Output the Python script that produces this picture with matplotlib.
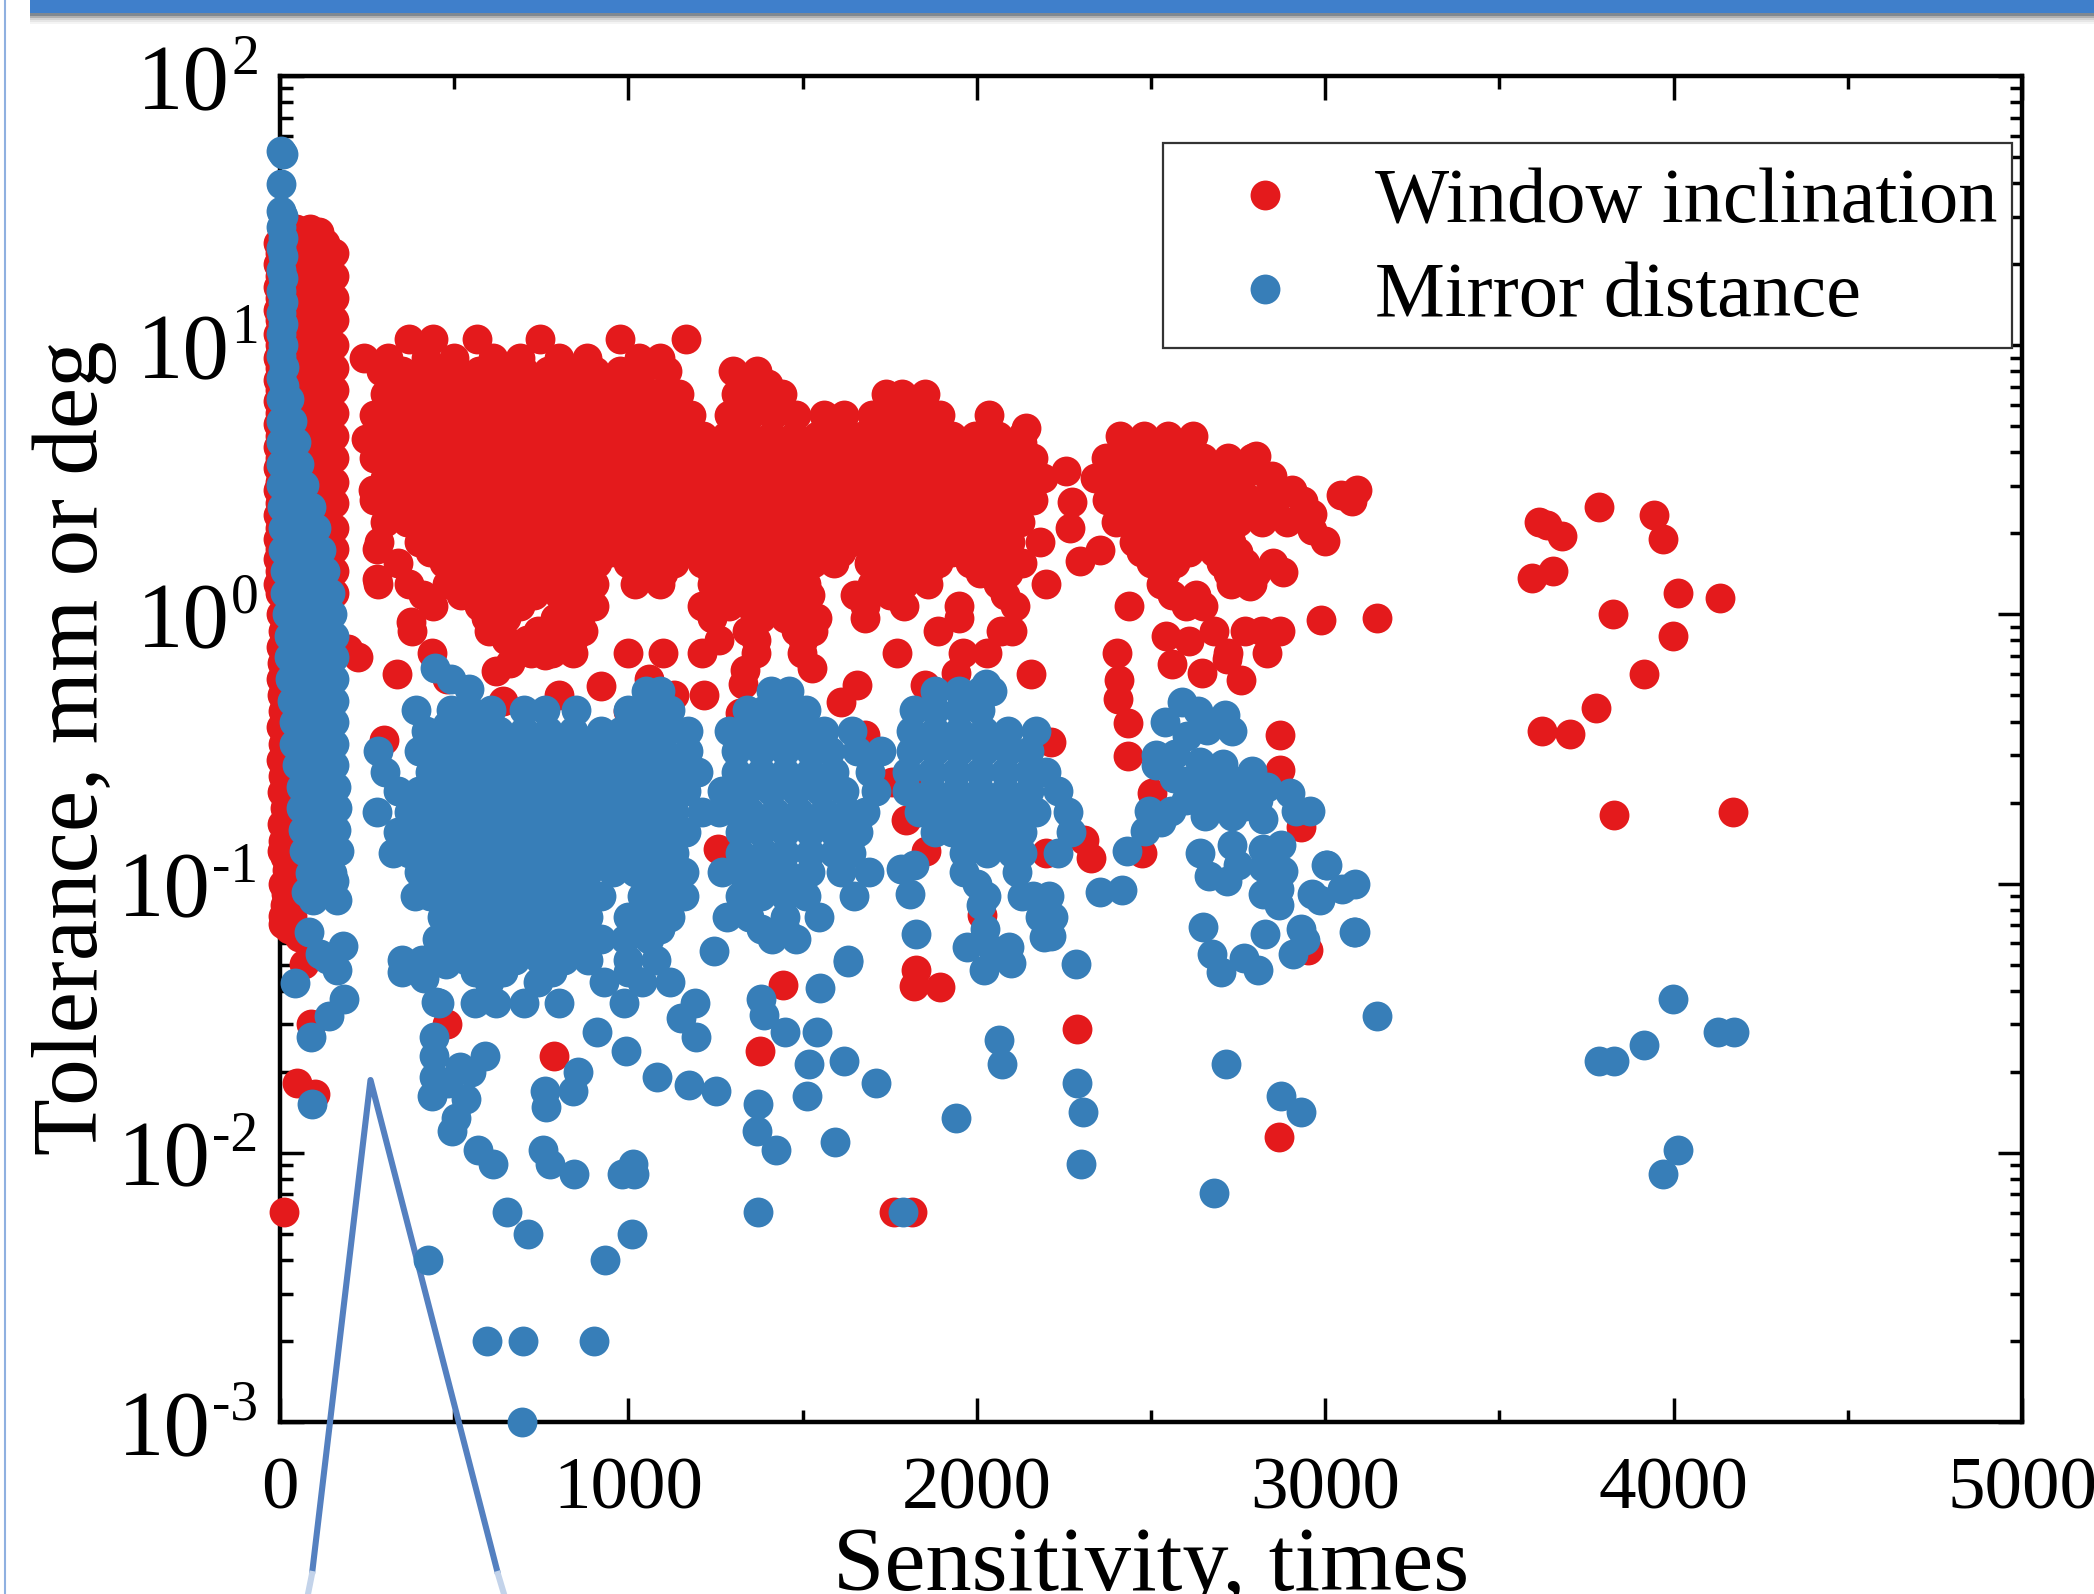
import numpy as np
from matplotlib import pyplot as plt
from matplotlib.lines import Line2D
from matplotlib.patches import Rectangle

plt.rcParams['font.family'] = ['Liberation Serif', 'DejaVu Serif']

W = 2094
H = 1594

# (tolerance, sensitivities) read row by row off the dense red cloud
red_rows = [
    (10.5, [370, 440, 565, 745, 975, 1165]),
    (9.0, [240, 310, 420, 500, 610, 690, 800, 880, 1030, 1090]),
    (8.0, [290, 350, 440, 510, 570, 640, 700, 770, 840, 905, 975, 1040, 1110, 1300, 1370]),
    (7.2, [330, 400, 470, 540, 610, 680, 750, 820, 890, 960, 1020, 1330, 1400]),
    (6.6, [300, 365, 430, 495, 560, 625, 690, 755, 820, 885, 950, 1015, 1080, 1145, 1310, 1375, 1440, 1740, 1785, 1850]),
    (5.5, [270, 335, 400, 465, 530, 595, 660, 725, 790, 855, 920, 985, 1050, 1115, 1180, 1290, 1350, 1415, 1480, 1560, 1620, 1700, 1765, 1830, 1895, 2035]),
    (4.6, [300, 365, 430, 495, 560, 625, 690, 755, 820, 885, 950, 1015, 1080, 1145, 1215, 1280, 1345, 1410, 1475, 1540, 1605, 1670, 1735, 1800, 1865, 1930, 1995, 2060, 2130, 2410, 2480, 2550, 2620]),
    (3.8, [270, 335, 400, 465, 530, 595, 660, 725, 790, 855, 920, 985, 1050, 1115, 1180, 1250, 1315, 1380, 1445, 1510, 1575, 1640, 1705, 1770, 1835, 1900, 1965, 2030, 2095, 2160, 2370, 2440, 2510, 2580, 2650, 2720, 2790]),
    (3.2, [300, 365, 430, 495, 560, 625, 690, 755, 820, 885, 950, 1015, 1080, 1145, 1215, 1280, 1345, 1410, 1475, 1540, 1605, 1670, 1735, 1800, 1865, 1930, 1995, 2060, 2125, 2190, 2340, 2410, 2480, 2550, 2620, 2690, 2760, 2840]),
    (2.65, [270, 335, 400, 465, 530, 595, 660, 725, 790, 855, 920, 985, 1050, 1115, 1180, 1250, 1315, 1380, 1445, 1510, 1575, 1640, 1705, 1770, 1835, 1900, 1965, 2030, 2095, 2160, 2375, 2440, 2510, 2580, 2650, 2720, 2790, 2860]),
    (2.2, [300, 365, 430, 495, 560, 625, 690, 755, 820, 885, 950, 1015, 1080, 1145, 1215, 1280, 1345, 1410, 1475, 1540, 1605, 1670, 1735, 1800, 1865, 1930, 1995, 2060, 2125, 2400, 2470, 2540, 2610, 2680, 2750, 2820, 2890]),
    (1.85, [285, 400, 465, 530, 595, 660, 725, 790, 855, 920, 985, 1050, 1115, 1180, 1250, 1315, 1380, 1445, 1510, 1575, 1640, 1700, 1770, 1835, 1900, 1965, 2030, 2095, 2180, 2450, 2520, 2590, 2660, 2730]),
    (1.7, [430, 500, 560, 630, 690, 760, 820, 880, 950, 1020, 1090, 1150, 1215, 1280, 1350, 1420, 1480, 1550, 1610, 1730, 1800, 1870, 1930, 2000, 2060, 2470, 2540, 2610, 2680, 2750]),
    (1.55, [340, 470, 530, 600, 660, 720, 790, 850, 910, 1000, 1060, 1130, 1210, 1270, 1330, 1400, 1460, 1530, 1590, 1690, 1750, 1830, 1890, 1980, 2040, 2130, 2500, 2570, 2700, 2770, 2850]),
    (1.42, [500, 570, 630, 690, 750, 820, 880, 1030, 1100, 1240, 1300, 1370, 1430, 1500, 1720, 1790, 1860, 2010, 2090, 2540, 2720, 2800]),
    (1.3, [280, 370, 480, 550, 620, 690, 760, 830, 900, 1020, 1090, 1240, 1300, 1370, 1440, 1510, 1700, 1790, 1860, 2060, 2200, 2530, 2730, 2790]),
    (1.18, [410, 520, 590, 660, 730, 800, 870, 1250, 1320, 1390, 1460, 1520, 1650, 1750, 2080, 2560, 2630]),
    (1.07, [440, 570, 630, 690, 830, 900, 1210, 1290, 1350, 1420, 1490, 1680, 1790, 1950, 2110, 2437, 2600, 2650]),
    (0.97, [590, 650, 790, 860, 1240, 1380, 1450, 1540, 1680, 1950]),
    (0.87, [380, 600, 740, 810, 870, 1340, 1480, 1530, 1890, 2070, 2100, 2680, 2770, 2820, 2870]),
    (0.8, [650, 710, 840, 1260, 1366, 1500]),
    (0.72, [435, 720, 780, 840, 1000, 1100, 1210, 1366, 1498, 1770, 1960, 2030, 2401, 2720, 2834]),
]

# (sensitivity, log10 tolerance) for the spike and the loose red points
red_px = [0, 55, 105, 155]
red_px2 = [-5, 30, 80, 130]
red_spike_t = [22, 18, 15, 12.4, 10, 8.2, 6.8, 5.6, 4.6, 3.8, 3.1, 2.6, 2.1, 1.75, 1.45, 1.2]
red_spike_t2 = [24, 20, 16.5, 13.5, 11, 9, 7.4, 6.2, 5.1, 4.2, 3.5, 2.9, 2.35, 1.9, 1.6, 1.3]
red_top = [(5, 1.43), (45, 1.43), (85, 1.43), (112, 1.42), (130, 1.36)]
red_left = [(3, 0.0), (8, -0.06), (4, -0.12), (6, -0.18), (2, -0.24), (6, -0.3), (9, -0.36), (3, -0.42), (8, -0.48), (2, -0.54),
            (8, -0.6), (5, -0.66), (15, -0.72), (6, -0.78), (10, -0.84), (6, -0.88), (14, -0.9), (20, -0.95), (10, -1.0), (18, -1.04),
            (14, -1.08), (10, -1.12), (25, -1.17), (55, -1.2), (70, -1.3), (10, -1.15), (35, -1.12)]
red_loose = [(100, -1.78), (50, -1.74), (88, -1.52), (12, -2.22), (480, -1.52), (787, -1.64), (1378, -1.62), (1443, -1.378),
             (1761, -2.22), (1815, -2.22), (1825, -1.32), (1821, -1.38), (1894, -1.383), (2287, -1.54), (2866, -1.94), (2950, -1.245),
             (3826, 0.0), (3829, -0.745), (4171, -0.733), (3703, -0.444), (3622, -0.432), (3776, -0.347), (3914, -0.222), (3998, -0.081),
             (4013, 0.079), (4132, 0.061), (3595, 0.137), (3653, 0.161), (3680, 0.29), (3615, 0.342), (3637, 0.332), (3787, 0.398),
             (3945, 0.371), (3971, 0.279), (3150, -0.014), (2988, -0.021), (3090, 0.463), (3046, 0.443), (3077, 0.423), (3000, 0.272),
             (2802, 0.588), (2847, 0.513), (2905, 0.463), (2937, 0.42), (2962, 0.372), (2962, 0.314), (2879, 0.156), (2783, 0.107),
             (2408, -0.245), (2406, -0.313), (2434, -0.404), (2434, -0.527), (2503, -0.664), (2869, -0.449), (2869, -0.577), (2930, -0.789),
             (2473, -0.885), (2328, -0.905), (2308, -0.838), (2200, -0.888), (2757, -0.242), (2646, -0.217), (2561, -0.183), (2610, -0.1),
             (2543, -0.08), (2719, -0.167), (2155, -0.222), (1941, -0.217), (1851, -0.262), (1655, -0.263), (1610, -0.325), (1526, -0.2),
             (1334, -0.208), (1328, -0.258), (1321, -0.366), (1216, -0.3), (1757, -0.623), (1802, -0.623), (1798, -0.764), (1853, -0.88),
             (2212, -0.474), (1680, -0.449), (1347, -0.772), (1257, -0.872), (2014, -1.117), (1443, -1.18), (2273, 0.418), (2257, 0.533),
             (2296, 0.198), (2353, 0.239), (2267, 0.322), (2142, 0.692), (2129, 0.637), (337, -0.22), (299, -0.466), (279, 0.131),
             (279, 0.244), (247, 0.652), (267, 0.462), (619, -0.21), (920, -0.267), (376, -0.03), (195, -0.13), (225, -0.16), (660, -0.18), (760, -0.15),
             (1060, -0.24), (1130, -0.3), (1000, -0.36), (640, -0.32), (800, -0.3), (480, -0.24), (540, -0.37), (930, -0.5), (1020, -0.52)]

# (tolerance, sensitivities) for the dense blue cloud
blue_rows = [
    (0.52, [1050, 1090, 1410, 1460, 1880, 1950, 2010, 2045]),
    (0.44, [390, 490, 545, 605, 700, 760, 850, 1000, 1060, 1120, 1340, 1390, 1450, 1510, 1820, 1880, 1950, 2010]),
    (0.37, [420, 490, 560, 630, 700, 770, 840, 920, 980, 1040, 1110, 1170, 1290, 1350, 1420, 1490, 1560, 1642, 1810, 1880, 1950, 2020, 2090, 2170]),
    (0.34, [460, 530, 600, 670, 740, 810, 880, 950, 1020, 1090, 1350, 1420, 1490, 1860, 1930, 2000, 2070]),
    (0.31, [280, 400, 470, 540, 610, 680, 750, 820, 890, 960, 1030, 1100, 1170, 1310, 1380, 1450, 1520, 1580, 1655, 1725, 1810, 1880, 1950, 2020, 2090, 2150]),
    (0.26, [300, 430, 500, 570, 640, 710, 780, 850, 920, 990, 1060, 1130, 1200, 1310, 1380, 1450, 1520, 1590, 1693, 1800, 1870, 1940, 2010, 2080, 2150, 2200]),
    (0.22, [340, 400, 465, 535, 605, 675, 745, 815, 885, 955, 1025, 1095, 1165, 1270, 1340, 1410, 1480, 1550, 1620, 1712, 1800, 1870, 1940, 2010, 2080, 2150, 2232]),
    (0.185, [279, 370, 430, 500, 570, 640, 710, 780, 850, 920, 990, 1060, 1130, 1210, 1260, 1310, 1350, 1420, 1490, 1560, 1630, 1680, 1835, 1900, 1970, 2040, 2110, 2170, 2263]),
    (0.155, [340, 400, 465, 535, 605, 675, 745, 815, 885, 955, 1025, 1095, 1165, 1320, 1380, 1450, 1520, 1590, 1660, 1880, 1930, 2000, 2070, 2130, 2270]),
    (0.13, [324, 370, 430, 500, 570, 640, 710, 780, 850, 920, 990, 1060, 1130, 1320, 1390, 1450, 1520, 1590, 1640, 1962, 2030, 2100, 2130, 2232]),
    (0.11, [400, 465, 535, 605, 675, 745, 815, 885, 955, 1020, 1090, 1160, 1270, 1320, 1380, 1450, 1520, 1610, 1690, 1962, 2116]),
    (0.1, [430, 500, 570, 640, 710, 780, 850, 1060, 1130, 1350, 1420, 1490, 2000]),
    (0.09, [388, 430, 500, 570, 640, 710, 780, 850, 920, 1040, 1100, 1160, 1320, 1380, 1450, 1510, 1648, 2026, 2129, 2161, 2206]),
    (0.075, [465, 535, 605, 675, 745, 815, 885, 1000, 1060, 1120, 1283, 1347, 1450, 1546, 2180, 2219]),
    (0.068, [500, 570, 640, 710, 780, 850, 1030, 1090, 1380, 1450]),
    (0.062, [452, 500, 570, 640, 710, 780, 850, 920, 990, 1060, 1411, 1482]),
    (0.052, [350, 408, 465, 535, 605, 675, 745, 815, 885, 1000, 1080, 1629]),
    (0.047, [560, 640, 780, 1000]),
    (0.043, [600, 740, 930, 1040, 1120]),
    (0.036, [456, 561, 620, 700, 800, 987, 1190]),
]

blue_spike_top = [(3, 1.72), (10, 1.71), (4, 1.6), (2, 1.5), (8, 1.48), (3, 1.44), (9, 1.4), (3, 1.36), (9, 1.33), (2, 1.28), (9, 1.25),
                  (2, 1.2), (9, 1.16), (3, 1.12), (10, 1.08), (3, 1.04), (10, 1.0), (3, 0.96), (12, 0.92), (3, 0.88), (12, 0.85)]
blue_spike = [(3, 0.8), (25, 0.8), (3, 0.72), (35, 0.72), (3, 0.64), (45, 0.64), (3, 0.56), (25, 0.56), (55, 0.56),
              (3, 0.48), (35, 0.48), (70, 0.48), (5, 0.4), (45, 0.4), (88, 0.4), (8, 0.32), (50, 0.32), (103, 0.32),
              (10, 0.24), (60, 0.24), (118, 0.24), (15, 0.16), (70, 0.16), (130, 0.16), (15, 0.08), (70, 0.08), (143, 0.08),
              (20, 0.0), (80, 0.0), (150, 0.0), (25, -0.08), (90, -0.08), (155, -0.08), (25, -0.16), (90, -0.16), (155, -0.16),
              (30, -0.24), (95, -0.24), (155, -0.24), (35, -0.32), (100, -0.32), (155, -0.32), (40, -0.4), (100, -0.4), (155, -0.4),
              (40, -0.48), (100, -0.48), (155, -0.48), (50, -0.56), (105, -0.56), (155, -0.56), (60, -0.64), (110, -0.64), (160, -0.64),
              (60, -0.72), (110, -0.72), (165, -0.72), (65, -0.8), (115, -0.8), (160, -0.8), (70, -0.88), (120, -0.88), (170, -0.88),
              (85, -0.96), (125, -0.96), (150, -0.96), (75, -1.03), (115, -1.04), (155, -0.99), (95, -1.06), (165, -1.06),
              (55, 0.28), (85, 0.2), (100, 0.12), (45, 0.04), (115, 0.04), (50, -0.04), (120, -0.04), (60, -0.12), (125, -0.12),
              (60, -0.2), (125, -0.2), (65, -0.28), (130, -0.28), (70, -0.36), (130, -0.36), (70, -0.44), (130, -0.44), (75, -0.52),
              (130, -0.52), (85, -0.6), (135, -0.6), (85, -0.68), (135, -0.68), (90, -0.76), (140, -0.76), (95, -0.84), (145, -0.84)]
blue_loose = [(695, -3.0), (595, -2.7), (698, -2.7), (900, -2.7), (425, -2.4), (932, -2.4), (652, -2.22), (713, -2.3), (1009, -2.3),
              (1373, -2.22), (1788, -2.22), (2682, -2.15), (3971, -2.08), (4013, -1.99), (3787, -1.66), (3829, -1.66), (3914, -1.6),
              (3998, -1.43), (4128, -1.55), (4174, -1.55), (3150, -1.49), (3085, -1.18), (3085, -1.0), (3048, -1.02), (3004, -0.93), (2962, -1.04),
              (2985, -1.06), (2716, -1.67), (2874, -1.79), (2931, -1.85), (2287, -1.74), (2306, -1.85), (2298, -2.04), (1941, -1.87),
              (1592, -1.96), (1423, -1.99), (1370, -1.92), (1373, -1.82), (1619, -1.66), (1711, -1.74), (1512, -1.79), (1519, -1.67),
              (2072, -1.67), (2064, -1.58), (2285, -1.298), (2212, -1.195), (2193, -1.2), (1971, -1.237), (2020, -1.32), (2046, -1.245),
              (2091, -1.237), (2097, -1.295), (2023, -1.17), (2011, -1.08), (1825, -1.187), (1809, -1.038), (1783, -0.946), (1819, -0.93),
              (2353, -1.03), (2418, -1.024), (2430, -0.88), (1630, -1.29), (1550, -1.386), (1450, -1.55), (1542, -1.55), (1381, -1.43),
              (1389, -1.487), (1247, -1.25), (1250, -1.77), (1174, -1.75), (1082, -1.72), (1193, -1.57), (1150, -1.5), (994, -1.62),
              (909, -1.55), (856, -1.7), (840, -1.77), (760, -1.77), (763, -1.83), (844, -2.08), (756, -1.99), (775, -2.04), (982, -2.08),
              (1017, -2.08), (1013, -2.04), (568, -1.99), (610, -2.04), (441, -1.57), (441, -1.64), (441, -1.72), (437, -1.79), (483, -1.74),
              (506, -1.87), (495, -1.92), (533, -1.8), (518, -1.68), (587, -1.64), (549, -1.7), (449, -1.44), (349, -1.33), (414, -1.35),
              (476, -1.3), (42, -1.37), (92, -1.82), (88, -1.57), (184, -1.43), (142, -1.49), (84, -1.18), (180, -1.23), (134, -1.28),
              (165, -1.32), (115, -1.26), (446, -0.2), (491, -0.239), (542, -0.277), (516, -0.447), (478, -0.41), (2026, -0.26),
              (2590, -0.325), (2635, -0.36), (2539, -0.4), (2712, -0.374), (2732, -0.432), (2604, -0.45), (2661, -0.43),
              (2514, -0.524), (2570, -0.52), (2514, -0.56), (2565, -0.606), (2642, -0.55), (2706, -0.557), (2789, -0.58), (2834, -0.64),
              (2898, -0.664), (2956, -0.73), (2917, -0.73), (2494, -0.73), (2558, -0.73), (2530, -0.77), (2482, -0.805), (2642, -0.66),
              (2732, -0.66), (2808, -0.69), (2654, -0.75), (2732, -0.75), (2821, -0.76), (2600, -0.62), (2680, -0.62), (2760, -0.62),
              (2600, -0.69), (2680, -0.71), (2770, -0.71), (2732, -0.855), (2642, -0.888), (2667, -0.971), (2719, -0.99), (2751, -0.93),
              (2873, -0.855), (2821, -0.87), (2821, -0.94), (2879, -0.955), (2821, -1.04), (2866, -1.08), (2866, -1.02), (3001, -0.93),
              (2648, -1.16), (2674, -1.26), (2702, -1.33), (2767, -1.275), (2808, -1.32), (2828, -1.187), (2930, -1.17), (2943, -1.21),
              (2907, -1.26), (3084, -1.18)]

window_x = [v for t, row in red_rows for v in row] + [v for t in red_spike_t for v in red_px] \
    + [v for t in red_spike_t2 for v in red_px2] + [p[0] for p in red_top + red_left + red_loose]
window_y = [t for t, row in red_rows for v in row] + [t for t in red_spike_t for v in red_px] \
    + [t for t in red_spike_t2 for v in red_px2] + [10 ** p[1] for p in red_top + red_left + red_loose]
mirror_x = [v for t, row in blue_rows for v in row] + [p[0] for p in blue_spike_top + blue_spike + blue_loose]
mirror_y = [t for t, row in blue_rows for v in row] + [10 ** p[1] for p in blue_spike_top + blue_spike + blue_loose]

x_ticks = [0, 1000, 2000, 3000, 4000, 5000]
y_exponents = [2, 1, 0, -1, -2, -3]

RED = '#e41a1c'
BLUE = '#377eb8'


def fx(px):
    return px / W


def fy(py):
    return 1 - py / H


fig = plt.figure(figsize=(W / 100, H / 100), dpi=100)
ax = fig.add_axes([fx(280), fy(1422), (2022 - 280) / W, (1422 - 76) / H])
ax.set_xlim(0, 5000)
ax.set_yscale('log')
ax.set_ylim(1e-3, 1e2)

ax.plot(window_x, window_y, 'o', ms=21.5, mec='none', color=RED, clip_on=False, zorder=3, label='Window inclination')
ax.plot(mirror_x, mirror_y, 'o', ms=21.5, mec='none', color=BLUE, clip_on=False, zorder=3.5, label='Mirror distance')

for s in ax.spines.values():
    s.set_linewidth(3.2)
ax.set_xticks(x_ticks)
ax.set_xticks([500, 1500, 2500, 3500, 4500], minor=True)
ax.tick_params(which='major', direction='in', length=17, width=2.5, top=True, right=True, left=True, bottom=True)
ax.tick_params(which='minor', direction='in', length=9, width=2.5, top=True, right=True, left=True, bottom=True)
ax.tick_params(axis='y', which='both', labelleft=False)
ax.yaxis.set_major_locator(plt.LogLocator(base=10, numticks=10))
ax.yaxis.set_minor_locator(plt.LogLocator(base=10, subs=range(2, 10), numticks=10))
ax.yaxis.set_minor_formatter(plt.NullFormatter())
ax.set_xticklabels([str(v) for v in x_ticks], fontsize=54)
ax.tick_params(axis='x', which='major', pad=25)

# y labels are drawn by hand to keep the short hyphen in the exponent
for e in y_exponents:
    right = -50 if e >= 0 else -69
    ax.annotate('10', (0, 10.0 ** e), xycoords=('axes fraction', 'data'), xytext=(right * 0.72, -33 * 0.72),
                textcoords='offset points', ha='right', va='baseline', fontsize=67, annotation_clip=False)
    ax.annotate(str(e), (0, 10.0 ** e), xycoords=('axes fraction', 'data'), xytext=((right + 1) * 0.72, 2 * 0.72),
                textcoords='offset points', ha='left', va='baseline', fontsize=40, annotation_clip=False)

fig.text(fx(75), fy(748), 'Tolerance, mm or deg', rotation=90, ha='center', va='center', fontsize=67)
fig.text(fx(1151), fy(1590), 'Sensitivity, times', ha='center', va='baseline', fontsize=66.5)

# legend box drawn apart so its height can differ from what the text asks for
ax.add_patch(Rectangle((fx(1163), fy(348)), (2012 - 1163) / W, (348 - 143) / H, transform=fig.transFigure,
                       fc='white', ec='#333333', lw=1.6, clip_on=False, zorder=5))
leg = ax.legend(loc='upper left', bbox_to_anchor=(fx(1163), fy(153)), bbox_transform=fig.transFigure,
                borderaxespad=0, fontsize=56.5, frameon=False,
                numpoints=1, handlelength=2.25, handletextpad=0.27, labelspacing=0.285, borderpad=0.18)
leg.set_zorder(6)

# callout lines running off the bottom of the slide
ax.plot([fx(312), fx(370.5), fx(498)], [fy(1574), fy(1080), fy(1574)], color='#5480c0', lw=4.4,
        transform=fig.transFigure, clip_on=False, zorder=2.8, solid_joinstyle='round', solid_capstyle='butt')
ax.plot([fx(312), fx(308)], [fy(1574), fy(1594)], color='#c3d3ea', lw=4.4, transform=fig.transFigure, clip_on=False, zorder=2.8)
ax.plot([fx(498), fx(504)], [fy(1574), fy(1594)], color='#c3d3ea', lw=4.4, transform=fig.transFigure, clip_on=False, zorder=2.8)

# slide furniture: banner with soft shadow and left border
shadow_rows = [(24, '#f4f4f4'), (22, '#e6e6e6'), (20, '#d2d2d2'), (18, '#b0b0b0'), (16, '#808890')]
for bottom, c in shadow_rows:
    fig.add_artist(Rectangle((fx(30), fy(bottom)), 1 - fx(30), bottom / H, transform=fig.transFigure, color=c, lw=0))
fig.add_artist(Rectangle((fx(30), fy(13)), 1 - fx(30), 13 / H, transform=fig.transFigure, color='#3f7fcb', lw=0))
fig.add_artist(Line2D([fx(5), fx(5)], [0, 1], transform=fig.transFigure, color='#8fb0e0', lw=1.5))

fig.savefig('out.png', dpi=100)
